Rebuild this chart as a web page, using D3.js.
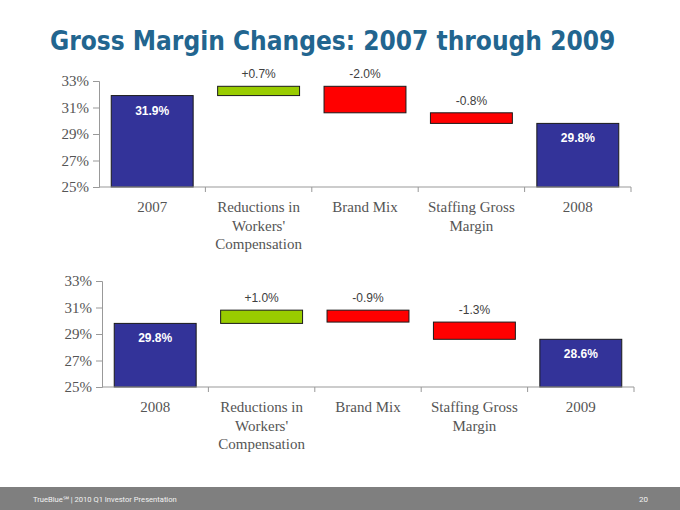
<!DOCTYPE html>
<html>
<head>
<meta charset="utf-8">
<script src="https://cdn.jsdelivr.net/npm/d3@7"></script>
<style>
  body { margin: 0; background: #fff; }
  svg { display: block; }
</style>
</head>
<body>
<svg id="chart" width="680" height="510"></svg>
<script>
// waterfall data
const yTicks = [25, 27, 29, 31, 33];

const categoriesTop = ['2007', "Reductions in|Workers'|Compensation", 'Brand Mix', 'Staffing Gross|Margin', '2008'];
const startTop = 31.9;
const changesTop = [0.7, -2.0, -0.8];
const endTop = 29.8;

const categoriesBottom = ['2008', "Reductions in|Workers'|Compensation", 'Brand Mix', 'Staffing Gross|Margin', '2009'];
const startBottom = 29.8;
const changesBottom = [1.0, -0.9, -1.3];
const endBottom = 28.6;

const colors = { total: '#333399', up: '#99cc00', down: '#ff0000' };

const svg = d3.select('#chart');

// title - shrink the font until it fits the slide's title width
const title = svg.append('text')
    .attr('x', 50).attr('y', 50)
    .attr('font-family', '"DejaVu Sans Condensed", "DejaVu Sans", sans-serif')
    .attr('font-weight', 'bold')
    .attr('font-size', 30)
    .attr('fill', '#22658f')
    .text('Gross Margin Changes: 2007 through 2009');
let fs = 30;
while (title.node().getComputedTextLength() > 574 && fs > 20) {
    fs -= 0.5;
    title.attr('font-size', fs);
}

// footer band
svg.append('rect')
    .attr('x', 0).attr('y', 487).attr('width', 680).attr('height', 23)
    .attr('fill', '#7f7f7f');
svg.append('text')
    .attr('x', 33).attr('y', 502)
    .attr('font-family', 'Roboto, sans-serif')
    .attr('font-size', 7.6)
    .attr('fill', '#f2f2f2')
    .text('TrueBlue\u2120 | 2010 Q1 Investor Presentation');
svg.append('text')
    .attr('x', 648).attr('y', 502)
    .attr('text-anchor', 'end')
    .attr('font-family', 'Roboto, sans-serif')
    .attr('font-size', 8)
    .attr('fill', '#f2f2f2')
    .text('20');

function fmtChange(v) {
    return (v > 0 ? '+' : '-') + Math.abs(v).toFixed(1) + '%';
}

function drawWaterfall(opts) {
    const { categories, start, changes, end, left, right, top, bottom } = opts;

    const x = d3.scaleBand().domain(categories).range([left, right]);
    const y = d3.scaleLinear().domain([25, 33]).range([bottom, top]);
    const g = svg.append('g');

    // build the steps from the values
    const steps = [];
    steps.push({ cat: categories[0], lo: 25, hi: start, type: 'total', label: start.toFixed(1) + '%' });
    let level = start;
    changes.forEach((c, i) => {
        const next = level + c;
        steps.push({
            cat: categories[i + 1],
            lo: Math.min(level, next),
            hi: Math.max(level, next),
            type: c > 0 ? 'up' : 'down',
            label: fmtChange(c)
        });
        level = next;
    });
    steps.push({ cat: categories[categories.length - 1], lo: 25, hi: end, type: 'total', label: end.toFixed(1) + '%' });

    const bw = x.bandwidth();
    const barW = bw * 0.77;

    g.selectAll('rect.bar')
        .data(steps)
        .join('rect')
        .attr('class', 'bar')
        .attr('x', d => x(d.cat) + (bw - barW) / 2)
        .attr('y', d => y(d.hi))
        .attr('width', barW)
        .attr('height', d => y(d.lo) - y(d.hi))
        .attr('fill', d => colors[d.type])
        .attr('stroke', '#1a1a1a')
        .attr('stroke-width', 1);

    // value labels
    g.selectAll('text.val')
        .data(steps)
        .join('text')
        .attr('class', 'val')
        .attr('x', d => x(d.cat) + bw / 2)
        .attr('y', d => d.type === 'total' ? y(d.hi) + 19 : y(d.hi) - 8)
        .attr('text-anchor', 'middle')
        .attr('font-family', '"Liberation Sans", Arial, sans-serif')
        .attr('font-size', 12)
        .attr('font-weight', d => d.type === 'total' ? 'bold' : 'normal')
        .attr('fill', d => d.type === 'total' ? '#ffffff' : '#404040')
        .text(d => d.label);

    // y axis
    const yAxis = g.append('g')
        .attr('transform', `translate(${left},0)`)
        .call(d3.axisLeft(y).tickValues(yTicks).tickSize(6).tickPadding(4).tickFormat(d => d + '%'));
    yAxis.select('.domain').attr('stroke', '#999');
    yAxis.selectAll('.tick line').attr('stroke', '#999');
    yAxis.selectAll('.tick text')
        .attr('font-family', '"Liberation Serif", "DejaVu Serif", serif')
        .attr('font-size', 15)
        .attr('fill', '#555');

    // x axis line with ticks at band boundaries
    g.append('line')
        .attr('x1', left).attr('x2', right)
        .attr('y1', bottom).attr('y2', bottom)
        .attr('stroke', '#999');
    const bounds = categories.slice(1).map(c => x(c)).concat([right]);
    g.selectAll('line.xtick')
        .data(bounds)
        .join('line')
        .attr('class', 'xtick')
        .attr('x1', d => d).attr('x2', d => d)
        .attr('y1', bottom).attr('y2', bottom + 5)
        .attr('stroke', '#999');

    // category labels
    const labels = g.selectAll('text.cat')
        .data(categories)
        .join('text')
        .attr('class', 'cat')
        .attr('text-anchor', 'middle')
        .attr('font-family', '"Liberation Serif", "DejaVu Serif", serif')
        .attr('font-size', 15)
        .attr('fill', '#555');
    labels.each(function(d) {
        const el = d3.select(this);
        d.split('|').forEach((line, i) => {
            el.append('tspan')
                .attr('x', x(d) + bw / 2)
                .attr('y', bottom + 25 + i * 18.5)
                .text(line);
        });
    });
}

drawWaterfall({
    categories: categoriesTop, start: startTop, changes: changesTop, end: endTop,
    left: 99, right: 631, top: 81, bottom: 187
});

drawWaterfall({
    categories: categoriesBottom, start: startBottom, changes: changesBottom, end: endBottom,
    left: 102, right: 634, top: 281, bottom: 387
});
</script>
</body>
</html>
